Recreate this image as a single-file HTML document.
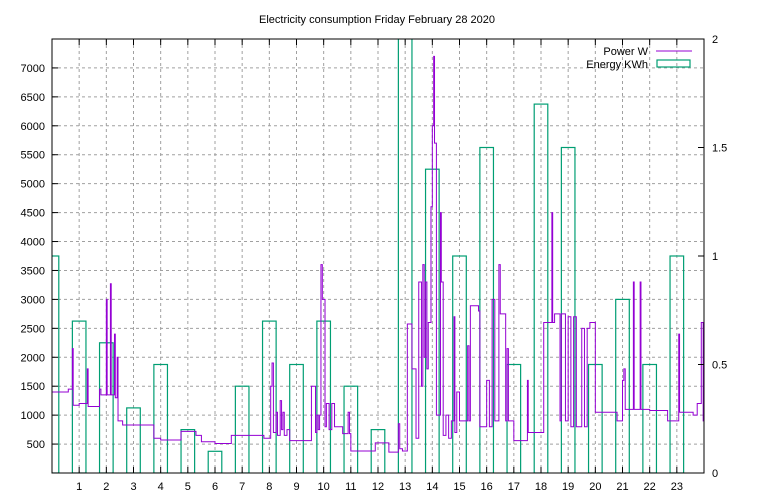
<!DOCTYPE html>
<html><head><meta charset="utf-8"><style>
body{margin:0;background:#fff}
svg{display:block;font-family:"Liberation Sans",sans-serif;font-size:11px}
</style></head><body>
<svg id="chart" width="768" height="500" viewBox="0 0 768 500">
<rect width="768" height="500" fill="#fff"/>
<text x="377" y="23" text-anchor="middle">Electricity consumption Friday February 28 2020</text>
<g id="grid"></g>
<g id="bars"></g>
<g id="line"></g>
<rect x="52" y="39" width="652" height="434" fill="none" stroke="#000" stroke-width="1"/>
<g id="axes"></g>
<g>
<text x="648" y="55" text-anchor="end">Power W</text>
<line x1="656" y1="51" x2="692" y2="51" stroke="#9400d3"/>
<text x="648" y="68" text-anchor="end">Energy KWh</text>
<rect x="657" y="60" width="33" height="7" fill="none" stroke="#009e73" stroke-width="1.2"/>
</g>
</svg>
<script>
const hours=[0,1,2,3,4,5,6,7,8,9,10,11,12,13,14,15,16,17,18,19,20,21,22,23];
const energyKWh=[1.0,0.70,0.60,0.30,0.50,0.20,0.10,0.40,0.70,0.50,0.70,0.40,0.20,2.2,1.40,1.0,1.50,0.50,1.70,1.50,0.50,0.80,0.50,1.0];
const powerTimes=[0,0.6,0.75,0.78,0.8,1.0,1.3,1.33,1.75,1.8,2.0,2.03,2.15,2.18,2.3,2.33,2.4,2.43,2.6,3.75,4.0,4.75,5.3,5.5,6.0,6.6,7.8,8.05,8.1,8.15,8.25,8.3,8.4,8.45,8.5,8.55,8.65,8.75,9.55,9.7,9.75,9.8,9.85,9.9,9.95,10.05,10.1,10.2,10.3,10.4,10.5,10.7,10.9,10.95,11.0,11.9,12.4,12.75,12.8,12.9,13.08,13.25,13.4,13.5,13.6,13.65,13.7,13.75,13.8,13.85,13.95,14.0,14.05,14.08,14.1,14.15,14.3,14.33,14.4,14.5,14.6,14.7,14.8,14.83,14.9,15.0,15.3,15.35,15.4,15.7,15.75,16.0,16.1,16.2,16.3,16.45,16.5,16.7,16.75,16.8,17.0,17.5,17.53,18.1,18.4,18.43,18.5,18.7,18.75,18.9,19.0,19.1,19.2,19.3,19.5,19.6,19.7,19.8,20.0,20.8,21.0,21.05,21.1,21.4,21.43,21.65,21.68,22.0,22.66,23.07,23.1,23.6,23.75,23.9,23.97,24];
const powerWatts=[1400,1450,2150,1170,1170,1200,1800,1150,1450,1350,3000,1350,3270,1350,2400,1300,2000,900,830,600,570,720,650,540,510,650,600,1500,1900,700,1050,650,1250,750,1050,650,750,560,1500,700,1000,750,1000,3600,3000,800,1200,750,1200,800,800,680,1050,680,380,520,360,850,420,380,2575,1800,600,3300,1500,3600,2000,3300,1800,2600,4600,6000,7200,5700,5700,1000,4500,3300,650,1000,600,900,2700,700,1400,900,2200,900,2890,2800,800,1600,800,3000,900,3600,2750,900,2150,900,560,1600,700,2600,4500,2600,2750,900,2750,900,2700,800,2700,800,2500,800,2500,2600,1050,900,1600,1800,1100,3300,1100,3300,1100,1080,900,2400,1050,1000,1200,2600,900,900];
const leftTicks=[500,1000,1500,2000,2500,3000,3500,4000,4500,5000,5500,6000,6500,7000];
const rightTicks=[0,0.5,1,1.5,2];
const xTicks=[1,2,3,4,5,6,7,8,9,10,11,12,13,14,15,16,17,18,19,20,21,22,23];

const X0=52,X1=704,Y0=473,Y1=39;
const x=h=>X0+(X1-X0)*h/24;
const yL=w=>Y0-(Y0-Y1)*w/7500;
const yR=e=>Y0-(Y0-Y1)*e/2;
const NS="http://www.w3.org/2000/svg";
function mk(tag,parent,attrs){const e=document.createElementNS(NS,tag);for(const k in attrs)e.setAttribute(k,attrs[k]);parent.appendChild(e);return e;}
const grid=document.getElementById('grid'),axes=document.getElementById('axes'),bars=document.getElementById('bars'),line=document.getElementById('line');

leftTicks.forEach(v=>{
 const y=yL(v);
 const g=mk('line',grid,{x1:X0,x2:X1,y1:y,y2:y,stroke:'#a0a0a0','stroke-dasharray':'3,3','stroke-width':1});
 
 
 const t=mk('line',axes,{x1:X0,x2:X0+6,y1:y,y2:y,stroke:'#000'});
 
 
 const l=mk('text',axes,{x:45,y:y+4,'text-anchor':'end'});
 l.textContent=v;
 
 
});
rightTicks.forEach(v=>{
 const y=yR(v);
 const t=mk('line',axes,{x1:X1-6,x2:X1,y1:y,y2:y,stroke:'#000'});
 
 
 const l=mk('text',axes,{x:712,y:y+4});
 l.textContent=v;
 
 
});
xTicks.forEach(h=>{
 const xx=x(h);
 const g=mk('line',grid,{x1:xx,x2:xx,y1:Y1,y2:Y0,stroke:'#a0a0a0','stroke-dasharray':'3,3','stroke-width':1});
 
 
 const t=mk('line',axes,{x1:xx,x2:xx,y1:Y0-6,y2:Y0,stroke:'#000'});
 
 
 const t2=mk('line',axes,{x1:xx,x2:xx,y1:Y1,y2:Y1+6,stroke:'#000'});
 
 
 const l=mk('text',axes,{x:xx,y:490,'text-anchor':'middle'});
 l.textContent=h;
 
 
});

// energy boxes
const cp=mk('clipPath',document.getElementById('chart'),{id:'clip'});
mk('rect',cp,{x:X0,y:Y1,width:X1-X0,height:Y0-Y1});
bars.setAttribute('clip-path','url(#clip)');
line.setAttribute('clip-path','url(#clip)');
hours.forEach((h,i)=>{
 const w=x(0.25)-x(0);
 const top=yR(energyKWh[i]);
 const r=mk('rect',bars,{x:x(h)-w,y:top,width:2*w,height:Y0-top,fill:'none',stroke:'#009e73','stroke-width':1.2});
 
 
});

// power step line
let d='M'+x(powerTimes[0])+' '+yL(powerWatts[0]);
for(let i=1;i<powerTimes.length;i++){
 d+=' H'+x(powerTimes[i]).toFixed(2)+' V'+yL(powerWatts[i]).toFixed(2);
}
const p=mk('path',line,{d:d,fill:'none',stroke:'#9400d3','stroke-width':1});


</script>
</body></html>
